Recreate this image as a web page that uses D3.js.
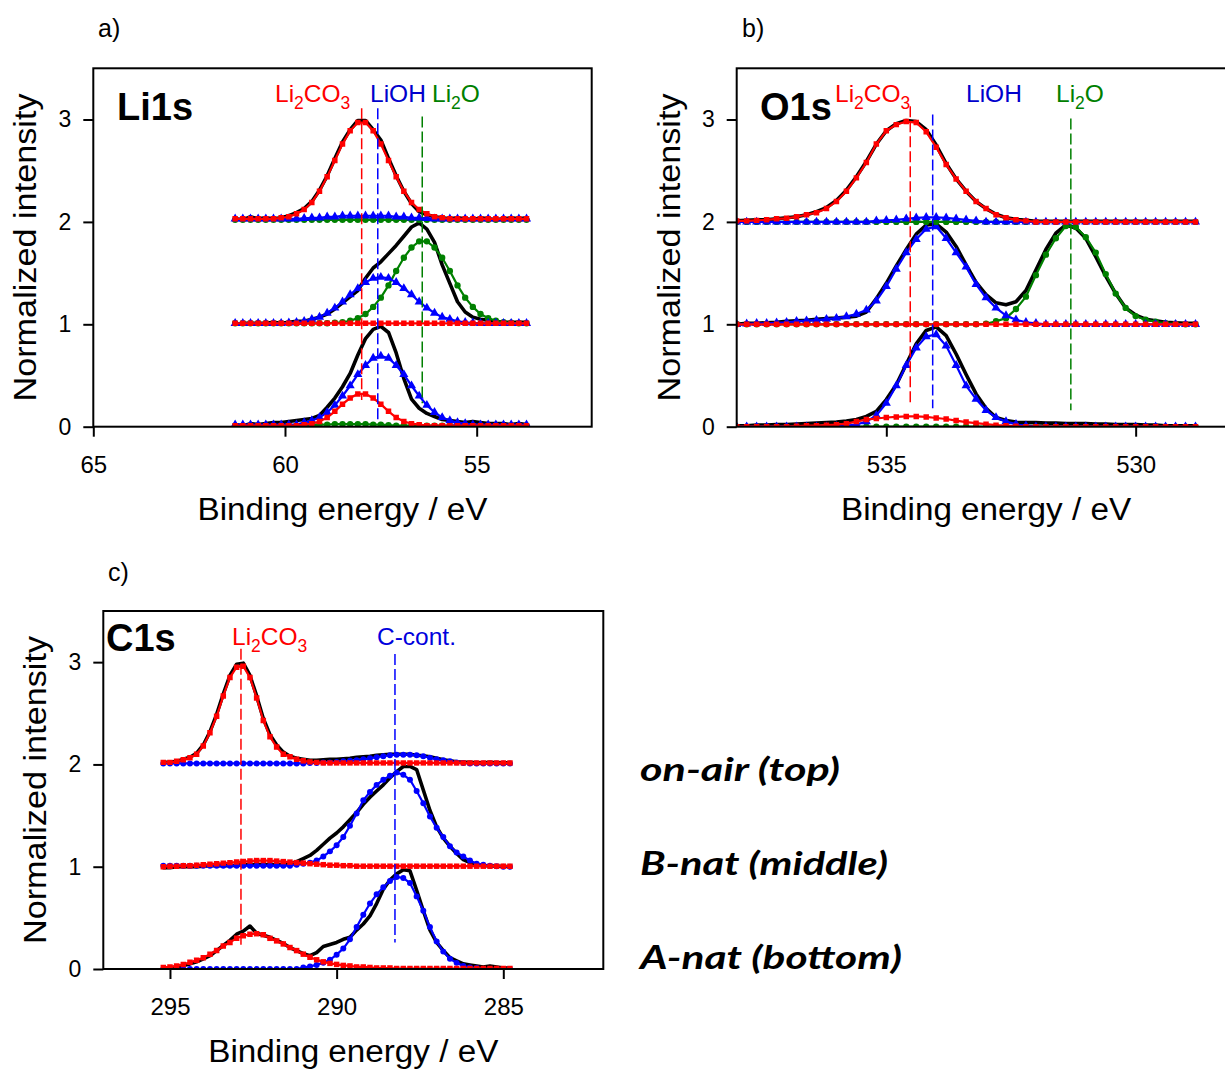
<!DOCTYPE html>
<html><head><meta charset="utf-8">
<script src="https://cdn.jsdelivr.net/npm/d3@7"></script>
<style>
body{margin:0;background:#fff;}
svg{display:block;}
text{font-family:"Liberation Sans",Arial,sans-serif;}
</style></head><body>
<svg id="chart" width="1225" height="1070"></svg>
<script>
// ---------------- DATA ----------------
// Row offsets: A-nat (bottom), B-nat (middle), on-air (top)
const rowOffsets = [0, 1, 2];
const sampleNames = ["on-air (top)", "B-nat (middle)", "A-nat (bottom)"];

// ---- Li1s ----
const li1sEnergy = [61.3,61.1,60.9,60.7,60.5,60.3,60.1,59.9,59.7,59.5,59.3,59.1,58.9,58.7,58.5,58.3,58.1,57.9,57.7,57.5,57.3,57.1,56.9,56.7,56.5,56.3,56.1,55.9,55.7,55.5,55.3,55.1,54.9,54.7,54.5,54.3,54.1,53.9,53.7];
const li1sTopMeas   = [0.03,0.02,0.05,0.03,0.04,0.03,0.04,0.06,0.09,0.13,0.20,0.31,0.45,0.62,0.78,0.90,0.99,0.99,0.90,0.80,0.62,0.45,0.30,0.18,0.10,0.07,0.05,0.04,0.03,0.04,0.03,0.02,0.04,0.03,0.02,0.03,0.04,0.03,0.04];
const li1sTopLi2CO3 = [0.03,0.03,0.03,0.03,0.03,0.03,0.04,0.05,0.08,0.12,0.19,0.30,0.44,0.60,0.76,0.89,0.97,0.97,0.89,0.76,0.60,0.44,0.30,0.19,0.12,0.08,0.05,0.04,0.03,0.03,0.03,0.03,0.03,0.03,0.03,0.03,0.03,0.03,0.03];
const li1sTopLiOH   = [0.03,0.03,0.03,0.03,0.03,0.03,0.03,0.03,0.03,0.035,0.04,0.04,0.05,0.05,0.06,0.06,0.06,0.06,0.06,0.06,0.06,0.05,0.05,0.04,0.04,0.035,0.03,0.03,0.03,0.03,0.03,0.03,0.03,0.03,0.03,0.03,0.03,0.03,0.03];
const li1sTopLi2O   = [0.02,0.02,0.02,0.02,0.02,0.02,0.02,0.02,0.02,0.02,0.02,0.02,0.02,0.02,0.02,0.02,0.02,0.02,0.02,0.02,0.02,0.02,0.02,0.02,0.02,0.02,0.02,0.02,0.02,0.02,0.02,0.02,0.02,0.02,0.02,0.02,0.02,0.02,0.02];
const li1sMidMeas   = [0.00,0.01,0.01,0.01,0.01,0.02,0.01,0.02,0.03,0.03,0.05,0.07,0.10,0.15,0.21,0.27,0.33,0.45,0.55,0.61,0.69,0.77,0.86,0.95,0.99,0.93,0.80,0.58,0.40,0.22,0.12,0.07,0.05,0.04,0.03,0.02,0.02,0.02,0.02];
const li1sMidLi2CO3 = [0.01,0.01,0.01,0.01,0.01,0.01,0.01,0.01,0.01,0.01,0.01,0.01,0.01,0.01,0.01,0.01,0.01,0.01,0.01,0.01,0.01,0.01,0.01,0.01,0.01,0.01,0.01,0.01,0.01,0.01,0.01,0.01,0.01,0.01,0.01,0.01,0.01,0.01,0.01];
const li1sMidLiOH   = [0.01,0.01,0.01,0.01,0.01,0.01,0.01,0.015,0.02,0.03,0.05,0.07,0.11,0.16,0.22,0.29,0.35,0.41,0.45,0.46,0.45,0.41,0.35,0.29,0.22,0.16,0.11,0.07,0.05,0.03,0.02,0.015,0.01,0.01,0.01,0.01,0.01,0.01,0.01];
const li1sMidLi2O   = [0.01,0.01,0.01,0.01,0.01,0.01,0.01,0.01,0.01,0.01,0.01,0.01,0.01,0.015,0.02,0.035,0.06,0.10,0.17,0.26,0.38,0.52,0.65,0.75,0.81,0.81,0.75,0.65,0.52,0.38,0.26,0.17,0.10,0.06,0.035,0.02,0.015,0.01,0.01];
const li1sBotMeas   = [0.02,0.01,0.03,0.02,0.03,0.04,0.04,0.05,0.06,0.07,0.08,0.11,0.19,0.28,0.39,0.52,0.70,0.86,0.95,0.98,0.92,0.72,0.47,0.27,0.18,0.13,0.10,0.07,0.06,0.05,0.04,0.05,0.04,0.03,0.03,0.03,0.02,0.03,0.02];
const li1sBotLi2CO3 = [0.01,0.01,0.01,0.01,0.01,0.01,0.01,0.01,0.01,0.02,0.03,0.05,0.09,0.15,0.22,0.28,0.32,0.32,0.28,0.22,0.15,0.09,0.05,0.03,0.02,0.01,0.01,0.01,0.01,0.01,0.01,0.01,0.01,0.01,0.01,0.01,0.01,0.01,0.01];
const li1sBotLiOH   = [0.02,0.02,0.02,0.02,0.02,0.02,0.02,0.02,0.02,0.04,0.06,0.09,0.14,0.21,0.30,0.40,0.51,0.60,0.67,0.69,0.67,0.60,0.51,0.40,0.30,0.21,0.14,0.09,0.06,0.04,0.03,0.02,0.02,0.02,0.02,0.02,0.02,0.02,0.02];
const li1sBotLi2O   = [0.01,0.01,0.01,0.01,0.01,0.01,0.01,0.01,0.01,0.01,0.015,0.02,0.02,0.025,0.025,0.025,0.025,0.025,0.02,0.02,0.015,0.01,0.01,0.01,0.01,0.01,0.01,0.01,0.01,0.01,0.01,0.01,0.01,0.01,0.01,0.01,0.01,0.01,0.01];
const li1sPeakNames = ["Li2CO3","LiOH","Li2O"];
const li1sPeakEnergy = [58.0, 57.58, 56.42];
const li1sPeakTop = [3.11, 3.11, 3.03];
const li1sPeakBottom = [0.26, 0.04, 0.23];
const li1sTicks = [65, 60, 55];

// ---- O1s ----
const o1sEnergy = [538.0,537.8,537.6,537.4,537.2,537.0,536.8,536.6,536.4,536.2,536.0,535.8,535.6,535.4,535.2,535.0,534.8,534.6,534.4,534.2,534.0,533.8,533.6,533.4,533.2,533.0,532.8,532.6,532.4,532.2,532.0,531.8,531.6,531.4,531.2,531.0,530.8,530.6,530.4,530.2,530.0,529.8,529.6,529.4,529.2,529.0,528.8];
const o1sTopMeas   = [0.01,0.015,0.02,0.02,0.03,0.04,0.05,0.07,0.10,0.14,0.21,0.31,0.44,0.59,0.76,0.89,0.96,0.99,0.98,0.90,0.75,0.57,0.42,0.30,0.20,0.13,0.075,0.04,0.025,0.015,0.005,0.005,0.005,0.005,0.005,0.005,0.005,0.005,0.005,0.005,0.005,0.005,0.005,0.005,0.005,0.005,0.005];
const o1sTopLi2CO3 = [0.01,0.01,0.015,0.02,0.03,0.035,0.05,0.07,0.09,0.13,0.20,0.30,0.43,0.58,0.76,0.89,0.95,0.98,0.97,0.88,0.73,0.56,0.42,0.30,0.20,0.13,0.07,0.04,0.02,0.01,0,0,0,0,0,0,0,0,0,0,0,0,0,0,0,0,0];
const o1sTopLiOH   = [0,0,0,0,0,0,0,0,0,0,0,0,0,0,0.01,0.015,0.02,0.03,0.04,0.045,0.045,0.04,0.03,0.02,0.01,0,0,0,0,0,0,0,0,0,0,0,0,0,0,0,0,0,0,0,0,0,0];
const o1sTopLi2O   = [0,0,0,0,0,0,0,0,0,0,0,0,0,0,0,0,0,0,0,0,0,0,0,0,0,0,0,0,0,0,0,0,0,0,0,0,0,0,0,0,0,0,0,0,0,0,0];
const o1sMidMeas   = [0.00,0.01,0.01,0.015,0.02,0.03,0.035,0.04,0.05,0.055,0.06,0.07,0.08,0.12,0.25,0.40,0.57,0.73,0.88,0.97,0.98,0.90,0.76,0.58,0.41,0.29,0.21,0.19,0.22,0.33,0.53,0.73,0.89,0.97,0.94,0.84,0.66,0.47,0.30,0.16,0.09,0.05,0.035,0.02,0.015,0.01,0.01];
const o1sMidLi2CO3 = [0,0,0,0,0,0,0,0,0,0,0,0,0,0,0,0,0,0,0,0,0,0,0,0,0,0,0,0,0,0,0,0,0,0,0,0,0,0,0,0,0,0,0,0,0,0,0];
const o1sMidLiOH   = [0.00,0.005,0.01,0.01,0.015,0.02,0.03,0.035,0.04,0.05,0.06,0.075,0.10,0.14,0.23,0.37,0.54,0.70,0.83,0.93,0.955,0.84,0.70,0.56,0.39,0.26,0.16,0.085,0.045,0.02,0.01,0,0,0,0,0,0,0,0,0,0,0,0,0,0,0,0];
const o1sMidLi2O   = [0,0,0,0,0,0,0,0,0,0,0,0,0,0,0,0,0,0,0,0,0,0,0,0,0,0.005,0.03,0.06,0.15,0.27,0.48,0.68,0.84,0.96,0.95,0.85,0.70,0.49,0.30,0.16,0.08,0.045,0.025,0.01,0.005,0,0];
const o1sBotMeas   = [0.01,0.01,0.015,0.015,0.02,0.02,0.025,0.03,0.035,0.04,0.045,0.055,0.07,0.10,0.15,0.265,0.41,0.61,0.81,0.94,0.975,0.89,0.71,0.51,0.32,0.18,0.09,0.06,0.045,0.04,0.04,0.035,0.035,0.03,0.03,0.03,0.025,0.025,0.02,0.02,0.02,0.015,0.015,0.01,0.01,0.01,0.01];
const o1sBotLi2CO3 = [0,0,0,0,0,0,0.005,0.01,0.01,0.015,0.02,0.03,0.05,0.07,0.08,0.09,0.095,0.10,0.10,0.095,0.085,0.075,0.06,0.045,0.035,0.025,0.015,0.01,0.005,0,0,0,0,0,0,0,0,0,0,0,0,0,0,0,0,0,0];
const o1sBotLiOH   = [0,0,0,0,0,0,0,0,0,0,0.005,0.01,0.02,0.05,0.11,0.23,0.40,0.60,0.77,0.88,0.90,0.79,0.60,0.40,0.27,0.16,0.09,0.05,0.025,0.01,0,0,0,0,0,0,0,0,0,0,0,0,0,0,0,0,0];
const o1sBotLi2O   = [0,0,0,0,0,0,0,0,0,0,0,0,0,0,0,0,0,0,0,0,0,0,0,0,0,0,0,0,0,0,0,0,0,0,0,0,0,0,0,0,0,0,0,0,0,0,0];
const o1sPeakNames = ["Li2CO3","LiOH","Li2O"];
const o1sPeakEnergy = [534.52, 534.07, 531.3];
const o1sPeakTop = [3.13, 3.05, 3.01];
const o1sPeakBottom = [0.23, 0.18, 0.16];
const o1sTicks = [535, 530];

// ---- C1s ----
const c1sEnergy = [295.2,295.0,294.8,294.6,294.4,294.2,294.0,293.8,293.6,293.4,293.2,293.0,292.8,292.6,292.4,292.2,292.0,291.8,291.6,291.4,291.2,291.0,290.8,290.6,290.4,290.2,290.0,289.8,289.6,289.4,289.2,289.0,288.8,288.6,288.4,288.2,288.0,287.8,287.6,287.4,287.2,287.0,286.8,286.6,286.4,286.2,286.0,285.8,285.6,285.4,285.2,285.0,284.8];
const c1sTopMeas   = [0.02,0.02,0.03,0.05,0.07,0.11,0.19,0.32,0.49,0.69,0.87,0.98,0.99,0.87,0.67,0.45,0.29,0.19,0.12,0.08,0.06,0.05,0.04,0.04,0.045,0.05,0.05,0.055,0.06,0.07,0.075,0.08,0.09,0.095,0.10,0.10,0.10,0.10,0.09,0.085,0.075,0.06,0.045,0.035,0.025,0.02,0.02,0.015,0.015,0.02,0.015,0.015,0.015];
const c1sTopLi2CO3 = [0.02,0.02,0.03,0.045,0.065,0.10,0.18,0.31,0.47,0.67,0.85,0.95,0.96,0.85,0.65,0.43,0.27,0.17,0.10,0.075,0.05,0.035,0.025,0.02,0.015,0.015,0.015,0.015,0.015,0.015,0.015,0.015,0.015,0.015,0.015,0.015,0.015,0.015,0.015,0.015,0.015,0.015,0.015,0.015,0.015,0.015,0.015,0.015,0.015,0.015,0.015,0.015,0.015];
const c1sTopCcont  = [0.01,0.01,0.01,0.01,0.01,0.01,0.01,0.01,0.01,0.01,0.01,0.01,0.01,0.01,0.01,0.01,0.01,0.01,0.01,0.01,0.01,0.01,0.015,0.015,0.02,0.02,0.025,0.03,0.035,0.04,0.05,0.06,0.07,0.08,0.09,0.095,0.095,0.095,0.09,0.08,0.065,0.05,0.04,0.03,0.02,0.015,0.01,0.01,0.01,0.01,0.01,0.01,0.01];
const c1sMidMeas   = [-0.01,-0.01,0.00,0.00,0.00,0.00,0.005,0.01,0.01,0.01,0.01,0.015,0.02,0.02,0.02,0.02,0.02,0.02,0.02,0.03,0.05,0.08,0.11,0.16,0.22,0.28,0.33,0.39,0.46,0.53,0.61,0.68,0.74,0.80,0.87,0.93,0.98,0.98,0.95,0.75,0.55,0.39,0.28,0.20,0.13,0.07,0.04,0.02,0.01,0.01,0.005,0.005,0.00];
const c1sMidLi2CO3 = [0.00,0.005,0.005,0.01,0.01,0.015,0.02,0.025,0.03,0.035,0.04,0.045,0.05,0.055,0.06,0.06,0.06,0.055,0.05,0.045,0.04,0.035,0.03,0.025,0.02,0.015,0.015,0.01,0.01,0.005,0.005,0.005,0.005,0.005,0.005,0.005,0.005,0.005,0.005,0.005,0.005,0.005,0.005,0.005,0.005,0.005,0.005,0.005,0.005,0.005,0.005,0.005,0.005];
const c1sMidCcont  = [0.01,0.01,0.01,0.01,0.01,0.01,0.01,0.01,0.01,0.01,0.01,0.01,0.01,0.01,0.01,0.01,0.01,0.01,0.01,0.01,0.02,0.03,0.04,0.06,0.10,0.15,0.21,0.29,0.40,0.52,0.65,0.73,0.80,0.85,0.89,0.92,0.90,0.85,0.74,0.62,0.49,0.38,0.29,0.20,0.14,0.10,0.06,0.03,0.02,0.01,0.005,0,0];
const c1sBotMeas   = [0.00,0.01,0.02,0.035,0.05,0.07,0.10,0.13,0.18,0.23,0.28,0.34,0.37,0.42,0.35,0.33,0.31,0.28,0.25,0.21,0.18,0.15,0.13,0.16,0.22,0.24,0.26,0.29,0.31,0.38,0.44,0.52,0.64,0.78,0.87,0.93,0.97,0.96,0.77,0.57,0.38,0.26,0.18,0.11,0.08,0.05,0.04,0.03,0.02,0.03,0.02,0.01,0.01];
const c1sBotLi2CO3 = [0.015,0.02,0.03,0.045,0.065,0.085,0.11,0.145,0.18,0.225,0.26,0.30,0.325,0.34,0.345,0.335,0.30,0.275,0.245,0.21,0.18,0.145,0.115,0.09,0.07,0.055,0.045,0.035,0.03,0.02,0.02,0.015,0.01,0.01,0.01,0.005,0.005,0.005,0.005,0.005,0.005,0.005,0.005,0.005,0.005,0.005,0.005,0.005,0.005,0.005,0.005,0.005,0.005];
const c1sBotCcont  = [0,0,0,0,0,0,0,0,0,0,0,0,0,0,0,0,0,0,0,0,0,0.015,0.025,0.04,0.06,0.09,0.14,0.20,0.29,0.41,0.53,0.64,0.73,0.80,0.86,0.90,0.89,0.84,0.71,0.57,0.41,0.27,0.17,0.10,0.06,0.03,0.015,0.01,0,0,0,0,0];
const c1sPeakNames = ["Li2CO3","C-cont."];
const c1sPeakEnergy = [292.87, 288.25];
const c1sPeakTop = [3.13, 3.08];
const c1sPeakBottom = [0.20, 0.26];
const c1sTicks = [295, 290, 285];

const yTicks = [0, 1, 2, 3];

// ---------------- STYLE ----------------
const speciesStyle = {
  "Li2CO3": {color:"#ff0000", text:"#ff0000", shape:d3.symbolSquare, size:30},
  "LiOH":   {color:"#0000ff", text:"#0000cc", shape:d3.symbolTriangle, size:36},
  "Li2O":   {color:"#008000", text:"#008000", shape:d3.symbolCircle, size:32},
  "C-cont.":{color:"#0000ff", text:"#0000dd", shape:d3.symbolCircle, size:28}
};
const drawOrder = ["Li2O","LiOH","C-cont.","Li2CO3"];

const panels = [
  { letter:"a)", letterX:98, letterY:37, core:"Li1s", coreX:117, coreY:120,
    left:93.3, top:68.3, width:498.4, bottom:426.7,
    xDomain:[65,52], xTicks:li1sTicks, energy:li1sEnergy,
    rows:[
      {off:rowOffsets[0], meas:li1sBotMeas, comps:{"Li2O":li1sBotLi2O,"LiOH":li1sBotLiOH,"Li2CO3":li1sBotLi2CO3}},
      {off:rowOffsets[1], meas:li1sMidMeas, comps:{"Li2O":li1sMidLi2O,"LiOH":li1sMidLiOH,"Li2CO3":li1sMidLi2CO3}},
      {off:rowOffsets[2], meas:li1sTopMeas, comps:{"Li2O":li1sTopLi2O,"LiOH":li1sTopLiOH,"Li2CO3":li1sTopLi2CO3}}
    ],
    peakNames:li1sPeakNames, peakE:li1sPeakEnergy, peakTop:li1sPeakTop, peakBot:li1sPeakBottom,
    labelX:[275, 370, 432], labelY:102 },
  { letter:"b)", letterX:742, letterY:37, core:"O1s", coreX:760, coreY:120,
    left:736.7, top:68.3, width:498.7, bottom:426.7,
    xDomain:[538,528], xTicks:o1sTicks, energy:o1sEnergy,
    rows:[
      {off:rowOffsets[0], meas:o1sBotMeas, comps:{"Li2O":o1sBotLi2O,"LiOH":o1sBotLiOH,"Li2CO3":o1sBotLi2CO3}},
      {off:rowOffsets[1], meas:o1sMidMeas, comps:{"Li2O":o1sMidLi2O,"LiOH":o1sMidLiOH,"Li2CO3":o1sMidLi2CO3}},
      {off:rowOffsets[2], meas:o1sTopMeas, comps:{"Li2O":o1sTopLi2O,"LiOH":o1sTopLiOH,"Li2CO3":o1sTopLi2CO3}}
    ],
    peakNames:o1sPeakNames, peakE:o1sPeakEnergy, peakTop:o1sPeakTop, peakBot:o1sPeakBottom,
    labelX:[835, 966, 1056], labelY:102 },
  { letter:"c)", letterX:108, letterY:581, core:"C1s", coreX:106, coreY:651,
    left:103.3, top:611, width:500, bottom:969,
    xDomain:[297,282], xTicks:c1sTicks, energy:c1sEnergy,
    rows:[
      {off:rowOffsets[0], meas:c1sBotMeas, comps:{"C-cont.":c1sBotCcont,"Li2CO3":c1sBotLi2CO3}},
      {off:rowOffsets[1], meas:c1sMidMeas, comps:{"C-cont.":c1sMidCcont,"Li2CO3":c1sMidLi2CO3}},
      {off:rowOffsets[2], meas:c1sTopMeas, comps:{"C-cont.":c1sTopCcont,"Li2CO3":c1sTopLi2CO3}}
    ],
    peakNames:c1sPeakNames, peakE:c1sPeakEnergy, peakTop:c1sPeakTop, peakBot:c1sPeakBottom,
    labelX:[232, 377], labelY:645 }
];

// ---------------- DRAW ----------------
const svg = d3.select("#chart");
svg.append("rect").attr("width",1225).attr("height",1070).attr("fill","#fff");

function addFormula(g, name, x, y, color, size) {
  const t = g.append("text").attr("x", x).attr("y", y).attr("fill", color).style("font-size", size + "px");
  const parts = name.match(/\d+|[^\d]+/g);
  let sub = false;
  parts.forEach(p => {
    const isNum = /^\d+$/.test(p);
    const ts = t.append("tspan").text(p);
    if (isNum) {
      ts.style("font-size", (size - 7) + "px");
      if (!sub) { ts.attr("dy", 7); sub = true; }
    } else if (sub) { ts.attr("dy", -7); sub = false; }
  });
}

panels.forEach((p, pi) => {
  const x = d3.scaleLinear().domain(p.xDomain).range([p.left, p.left + p.width]);
  const y = d3.scaleLinear().domain([0, 3.5]).range([p.bottom, p.top]);
  const g = svg.append("g");

  const clipId = "clip" + pi;
  svg.append("clipPath").attr("id", clipId).append("rect")
    .attr("x", p.left).attr("y", p.top).attr("width", p.width).attr("height", p.bottom - p.top);
  const plot = g.append("g").attr("clip-path", `url(#${clipId})`);

  p.rows.forEach(row => {
    const measPts = p.energy.map((e, i) => ({e, v: row.meas[i]}));
    const line = d3.line().x(d => x(d.e)).y(d => y(d.v + row.off));
    plot.append("path").datum(measPts).attr("d", line)
      .attr("fill", "none").attr("stroke", "#000").attr("stroke-width", 3.6)
      .attr("stroke-linejoin", "round").attr("stroke-linecap", "round");
  });
  p.rows.forEach(row => {
    const line = d3.line().x(d => x(d.e)).y(d => y(d.v + row.off));
    drawOrder.forEach(sp => {
      const vals = row.comps[sp];
      if (!vals) return;
      const st = speciesStyle[sp];
      const pts = p.energy.map((e, i) => ({e, v: vals[i]}));
      plot.append("path").datum(pts).attr("d", line)
        .attr("fill", "none").attr("stroke", st.color).attr("stroke-width", 2.2);
      const sym = d3.symbol().type(st.shape).size(st.size);
      plot.append("g").selectAll("path").data(pts).join("path")
        .attr("d", sym)
        .attr("transform", d => `translate(${x(d.e)},${y(d.v + row.off)})`)
        .attr("fill", st.color);
    });
  });

  // peak reference lines
  p.peakNames.forEach((nm, k) => {
    g.append("line")
      .attr("x1", x(p.peakE[k])).attr("x2", x(p.peakE[k]))
      .attr("y1", y(p.peakTop[k])).attr("y2", y(p.peakBot[k]))
      .attr("stroke", speciesStyle[nm].color).attr("stroke-width", 1.5)
      .attr("stroke-dasharray", "11,4");
    addFormula(g, nm, p.labelX[k], p.labelY, speciesStyle[nm].text, 24.5);
  });

  // frame
  g.append("rect").attr("x", p.left).attr("y", p.top)
    .attr("width", p.width).attr("height", p.bottom - p.top)
    .attr("fill", "none").attr("stroke", "#000").attr("stroke-width", 2);

  // axes
  const xAxis = d3.axisBottom(x).tickValues(p.xTicks).tickSize(10).tickPadding(19).tickFormat(d3.format("d"));
  g.append("g").attr("transform", `translate(0,${p.bottom})`).call(xAxis)
    .call(s => s.select(".domain").remove())
    .call(s => s.selectAll("line").attr("stroke", "#000").attr("stroke-width", 2))
    .call(s => s.selectAll("text").attr("fill", "#000")
      .style("font-size", "24px").style("font-family", "'Liberation Sans', Arial, sans-serif"));
  const yAxis = d3.axisLeft(y).tickValues(yTicks).tickSize(10).tickPadding(12).tickFormat(d3.format("d"));
  g.append("g").attr("transform", `translate(${p.left},0)`).call(yAxis)
    .call(s => s.select(".domain").remove())
    .call(s => s.selectAll("line").attr("stroke", "#000").attr("stroke-width", 2))
    .call(s => s.selectAll("text").attr("fill", "#000")
      .style("font-size", "23px").style("font-family", "'Liberation Sans', Arial, sans-serif"));

  // titles
  g.append("text").attr("x", p.left + p.width / 2).attr("y", p.bottom + 93)
    .attr("text-anchor", "middle").style("font-size", "31px")
    .attr("textLength", 290).attr("lengthAdjust", "spacingAndGlyphs")
    .text("Binding energy / eV");
  const cy = (p.top + p.bottom) / 2;
  g.append("text").attr("transform", `translate(${p.left - 57},${cy}) rotate(-90)`)
    .attr("text-anchor", "middle").style("font-size", "31px")
    .attr("textLength", 308).attr("lengthAdjust", "spacingAndGlyphs")
    .text("Normalized intensity");

  // core level & panel letter
  g.append("text").attr("x", p.coreX).attr("y", p.coreY)
    .style("font-size", "38px").style("font-weight", "bold").text(p.core);
  g.append("text").attr("x", p.letterX).attr("y", p.letterY)
    .style("font-size", "25px").text(p.letter);
});

// sample legend
const legendY = [781, 875, 969];
const legendW = [200, 248, 262];
sampleNames.forEach((nm, i) => {
  svg.append("text").attr("x", 640).attr("y", legendY[i])
    .style("font-family", "Lato, 'Open Sans', sans-serif")
    .style("font-size", "33px").style("font-weight", "bold").style("font-style", "italic")
    .attr("textLength", legendW[i]).attr("lengthAdjust", "spacingAndGlyphs")
    .text(nm);
});
</script>
</body></html>
